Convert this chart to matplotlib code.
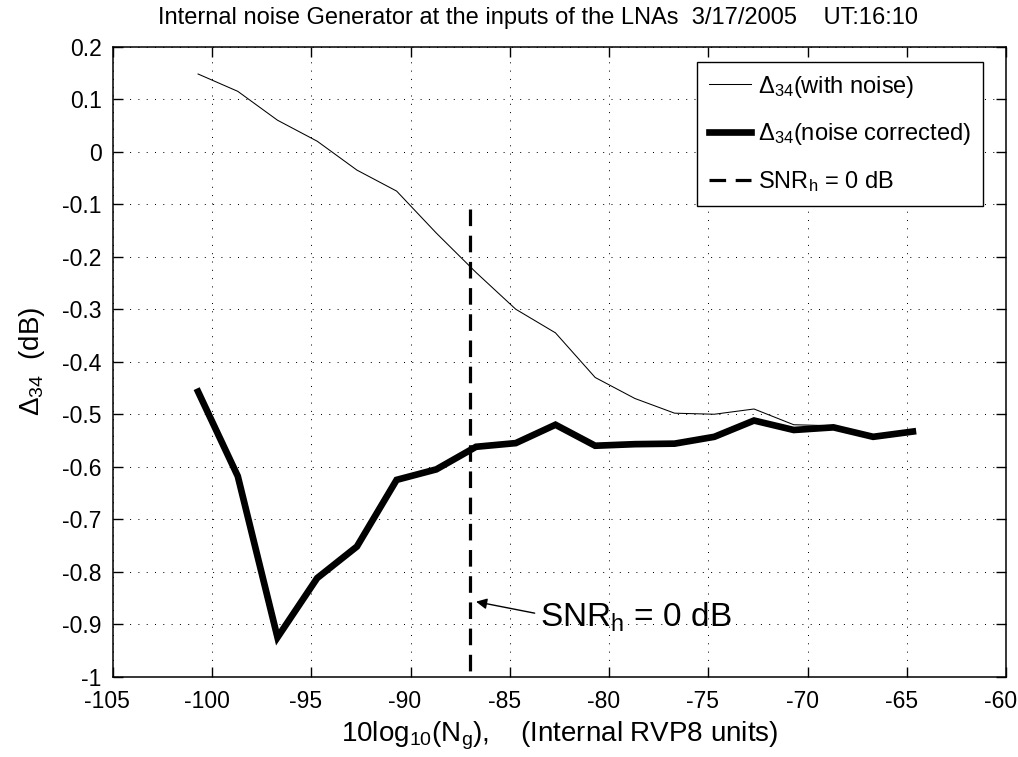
import numpy as np
import matplotlib
matplotlib.use("Agg")
import matplotlib.pyplot as plt
import matplotlib.transforms as mtransforms

plt.rcParams['font.family'] = ['Liberation Sans', 'DejaVu Sans']
plt.rcParams['mathtext.fontset'] = 'custom'
plt.rcParams['mathtext.rm'] = 'Liberation Sans'
plt.rcParams['mathtext.it'] = 'Liberation Sans'
plt.rcParams['mathtext.default'] = 'rm'

# noise power in internal RVP8 units (dB)
noise_level = [-100.7, -98.7, -96.7, -94.7, -92.7, -90.7, -88.7, -86.7, -84.7, -82.7,
               -80.7, -78.7, -76.7, -74.7, -72.7, -70.7, -68.7, -66.7, -64.7]
delta_with_noise = [0.148, 0.115, 0.060, 0.020, -0.035, -0.075, -0.155, -0.230, -0.300, -0.345,
                    -0.430, -0.470, -0.498, -0.500, -0.490, -0.520, -0.522, -0.540, -0.532]
delta_corrected = [-0.457, -0.618, -0.925, -0.812, -0.752, -0.625, -0.605, -0.562, -0.555, -0.520,
                   -0.560, -0.557, -0.556, -0.543, -0.512, -0.530, -0.525, -0.543, -0.533]

snr0_level = -87.0
snr0_span = [-0.11, -1.0]

xticks = [-105, -100, -95, -90, -85, -80, -75, -70, -65, -60]
yticks = [-1, -0.9, -0.8, -0.7, -0.6, -0.5, -0.4, -0.3, -0.2, -0.1, 0, 0.1, 0.2]
ytick_labels = ['-1', '-0.9', '-0.8', '-0.7', '-0.6', '-0.5', '-0.4', '-0.3', '-0.2',
                '-0.1', '0', '0.1', '0.2']

fig = plt.figure(figsize=(10.18, 7.57), dpi=100)
ax = fig.add_axes([0.1107, 0.106, 0.8777, 0.8323])

ax.plot(noise_level, delta_with_noise, 'k-', lw=0.75, label='Δ$_{34}$(with noise)')
ax.plot(noise_level, delta_corrected, 'k-', lw=4.8, label='Δ$_{34}$(noise corrected)',
        solid_joinstyle='miter')
ax.plot([snr0_level, snr0_level], snr0_span, 'k', lw=2.3, ls=(0, (5.2, 3.0)),
        label='SNR$_h$ = 0 dB')

ax.set_xlim(-105, -60)
ax.set_ylim(-1, 0.2)
ax.set_xticks(xticks)
ax.set_xticklabels([str(v) for v in xticks])
ax.set_yticks(yticks)
ax.set_yticklabels(ytick_labels)

ax.grid(True, color='k', lw=0.72, ls=(0, (1, 7.3)))
ax.tick_params(direction='in', length=7, width=1, top=True, right=True,
               labelsize=16.5, pad=8)
ax.tick_params(axis='x', pad=9.5)
for sp in ax.spines.values():
    sp.set_linewidth(1.1)

# nudge x tick labels a little to the left
shift = mtransforms.ScaledTranslation(-5.5 / 100, 0, fig.dpi_scale_trans)
for lab in ax.get_xticklabels():
    lab.set_transform(lab.get_transform() + shift)

ax.set_title('Internal noise Generator at the inputs of the LNAs  3/17/2005    UT:16:10',
             fontsize=17, x=0.476, pad=16)
ax.set_xlabel('10log$_{10}$(N$_g$),    (Internal RVP8 units)', fontsize=20, labelpad=5)
ax.set_ylabel('Δ$_{34}$  (dB)', fontsize=20, labelpad=11)

ax.annotate('SNR$_h$ = 0 dB', xy=(-86.7, -0.857), xytext=(-83.47, -0.905),
            textcoords='data', ha='left', va='baseline', fontsize=24,
            arrowprops=dict(arrowstyle='-|>', color='k', lw=1, mutation_scale=16,
                            relpos=(0, 0.6), shrinkA=2, shrinkB=0))

leg = ax.legend(loc='upper right', bbox_to_anchor=(0.974, 0.976), borderaxespad=0,
                fontsize=17, fancybox=False, frameon=True, framealpha=1,
                edgecolor='k', handlelength=1.8, handletextpad=0.3, labelspacing=0.92,
                borderpad=0.5)
leg.get_frame().set_linewidth(1.0)

fig.savefig('out.png', dpi=100)
